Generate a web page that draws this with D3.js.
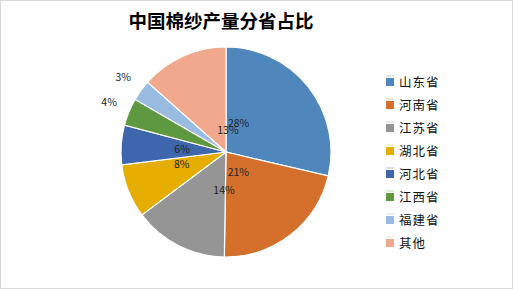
<!DOCTYPE html>
<html>
<head>
<meta charset="utf-8">
<script src="https://cdn.jsdelivr.net/npm/d3@7"></script>
<style>
  body { margin: 0; background: #fff; }
  svg { display: block; font-family: "Noto Sans CJK SC", "Noto Sans", sans-serif; }
</style>
</head>
<body>
<script>
// data
var provinces = ["山东省", "河南省", "江苏省", "湖北省", "河北省", "江西省", "福建省", "其他"];
var shares = [28.4, 21.4, 14.4, 8.2, 6.0, 4.2, 3.2, 13.3];
var colors = ["#4f87bd", "#d46f2c", "#959595", "#e4ad00", "#3e66ad", "#5f993f", "#9abbe0", "#f0a98c"];
var title = "中国棉纱产量分省占比";

var W = 513, H = 289;
var cx = 226, cy = 152, r = 105;

// label placement [radius, angle in degrees from top], labels were dragged around in the original
var labelPos = [[31, 24], [24, 149], [38, 183], [46, 254], [44, 273], [127, 293], [127, 306], [22, 5]];

var data = provinces.map(function(p, i) { return {name: p, value: shares[i], color: colors[i], idx: i}; });

var svg = d3.select("body").append("svg")
    .attr("width", W)
    .attr("height", H);

// outer border
svg.append("rect")
    .attr("x", 0.5).attr("y", 0.5)
    .attr("width", W - 1).attr("height", H - 1)
    .attr("fill", "#fff")
    .attr("stroke", "#d9d9d9");

svg.append("text")
    .attr("x", 221).attr("y", 28)
    .attr("text-anchor", "middle")
    .attr("font-size", 18.5)
    .attr("font-weight", "bold")
    .attr("fill", "#000")
    .text(title);

var pie = d3.pie().sort(null).value(function(d) { return d.value; });
var arc = d3.arc().innerRadius(0).outerRadius(r);

var g = svg.append("g").attr("transform", "translate(" + cx + "," + cy + ")");

g.selectAll("path")
    .data(pie(data))
  .enter().append("path")
    .attr("d", arc)
    .attr("fill", function(d) { return d.data.color; })
    .attr("stroke", "#fff")
    .attr("stroke-width", 1.2);

g.selectAll("text.lbl")
    .data(pie(data))
  .enter().append("text")
    .attr("class", "lbl")
    .attr("x", function(d) { var p = labelPos[d.data.idx]; return p[0] * Math.sin(p[1] * Math.PI / 180); })
    .attr("y", function(d) { var p = labelPos[d.data.idx]; return -p[0] * Math.cos(p[1] * Math.PI / 180); })
    .attr("dy", "0.35em")
    .attr("text-anchor", "middle")
    .attr("font-size", 10.5)
    .attr("fill", "#222")
    .text(function(d) { return Math.round(d.data.value) + "%"; });

// legend
var leg = svg.append("g").attr("transform", "translate(386,82)");
var item = leg.selectAll("g")
    .data(data)
  .enter().append("g")
    .attr("transform", function(d, i) { return "translate(0," + (i * 23) + ")"; });

item.append("rect")
    .attr("x", 0).attr("y", -4)
    .attr("width", 8).attr("height", 8)
    .attr("fill", function(d) { return d.color; });

item.append("rect")
    .attr("x", 0).attr("y", -6.5)
    .attr("width", 8).attr("height", 1)
    .attr("fill", function(d) { return d.color; })
    .attr("opacity", 0.4);

item.append("text")
    .attr("x", 13).attr("y", 0)
    .attr("dy", "0.36em")
    .attr("font-size", 12.5)
    .attr("fill", "#111")
    .attr("letter-spacing", 1)
    .text(function(d) { return d.name; });
</script>
</body>
</html>
